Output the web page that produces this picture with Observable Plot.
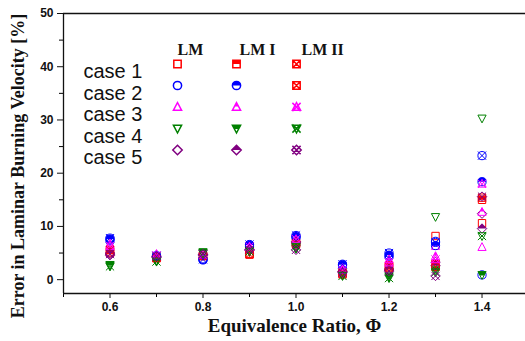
<!DOCTYPE html>
<html><head><meta charset="utf-8">
<script src="https://cdn.jsdelivr.net/npm/d3@7"></script>
<script src="https://cdn.jsdelivr.net/npm/@observablehq/plot@0.6"></script>
<style>body{margin:0;background:#fff}#chart svg{display:block}</style>
</head><body><div id="chart"></div>
<script>
// ---- data ----
const phi = [0.6, 0.7, 0.8, 0.9, 1.0, 1.1, 1.2, 1.3, 1.4];
const caseNames = ["case 1", "case 2", "case 3", "case 4", "case 5"];
const methods = ["LM", "LM I", "LM II"];
const xTicks = [0.6, 0.8, 1.0, 1.2, 1.4];
const xMinorTicks = [0.5, 0.7, 0.9, 1.1, 1.3];
const yTicks = [0, 10, 20, 30, 40, 50];
const yMinorTicks = [5, 15, 25, 35, 45];
const yTitle = "Error in Laminar Burning Velocity [%]";
const xTitle = "Equivalence Ratio, \u03A6";

const case1LM   = [5.0, 4.0, 4.4, 4.7, 6.6, 1.2, 2.5, 8.2, 10.6];
const case1LMI  = [5.3, 4.2, 4.6, 4.9, 6.8, 1.4, 2.7, 3.0, 15.0];
const case1LMII = [5.6, 4.1, 4.5, 4.8, 6.9, 1.0, 2.3, 2.4, 15.4];
const case2LM   = [7.3, 4.3, 3.7, 6.3, 7.9, 2.6, 4.3, 7.2, 0.9];
const case2LMI  = [7.6, 4.4, 3.9, 6.5, 8.1, 2.8, 4.6, 6.4, 18.4];
const case2LMII = [7.8, 4.5, 3.8, 6.6, 8.3, 2.9, 5.0, 7.0, 23.3];
const case3LM   = [6.5, 4.7, 4.6, 5.8, 7.3, 2.0, 3.5, 6.3, 6.1];
const case3LMI  = [6.8, 4.8, 4.8, 6.0, 7.5, 2.2, 3.8, 4.4, 12.7];
const case3LMII = [6.3, 4.6, 4.7, 6.2, 7.6, 1.8, 3.2, 3.8, 18.0];
const case4LM   = [2.6, 3.5, 5.0, 5.2, 5.8, 0.8, 0.8, 11.8, 30.3];
const case4LMI  = [2.8, 3.6, 5.2, 5.4, 6.0, 1.0, 0.5, 1.8, 0.9];
const case4LMII = [2.5, 3.4, 4.9, 5.3, 6.2, 0.7, 0.3, 1.4, 8.2];
const case5LM   = [4.6, 4.2, 4.6, 5.6, 6.9, 1.5, 1.8, 3.3, 12.4];
const case5LMI  = [5.0, 4.3, 4.7, 5.5, 7.1, 1.6, 2.0, 2.6, 9.6];
const case5LMII = [4.8, 4.4, 4.8, 5.7, 5.6, 1.3, 1.6, 0.7, 15.6];

const series = [
  [case1LM, case1LMI, case1LMII],
  [case2LM, case2LMI, case2LMII],
  [case3LM, case3LMI, case3LMII],
  [case4LM, case4LMI, case4LMII],
  [case5LM, case5LMI, case5LMII]
];
const colors = ["#ff0000", "#0000ff", "#ff00ff", "#008000", "#800080"];
const shapes = ["square", "circle", "triangleUp", "triangleDown", "diamond"];
// legend of the original shows case 2 / LM II in red
const legendColors = [
  ["#ff0000", "#ff0000", "#ff0000"],
  ["#0000ff", "#0000ff", "#ff0000"],
  ["#ff00ff", "#ff00ff", "#ff00ff"],
  ["#008000", "#008000", "#008000"],
  ["#800080", "#800080", "#800080"]
];
const legendShapes = [
  ["square", "square", "square"],
  ["circle", "circle", "square"],
  ["triangleUp", "triangleUp", "triangleUp"],
  ["triangleDown", "triangleDown", "triangleDown"],
  ["diamond", "diamond", "diamond"]
];

// ---- custom symbols ----
function outline(kind, c, r) {
  if (kind === "square") { const s = r * 0.9; c.rect(-s, -s, 2 * s, 2 * s); }
  else if (kind === "circle") { c.moveTo(r, 0); c.arc(0, 0, r, 0, 2 * Math.PI); c.closePath(); }
  else if (kind === "triangleUp") { c.moveTo(0, -1.1 * r); c.lineTo(r, 0.8 * r); c.lineTo(-r, 0.8 * r); c.closePath(); }
  else if (kind === "triangleDown") { c.moveTo(0, 1.1 * r); c.lineTo(r, -0.8 * r); c.lineTo(-r, -0.8 * r); c.closePath(); }
  else if (kind === "diamond") { const s = r * 1.15; c.moveTo(0, -s); c.lineTo(s, 0); c.lineTo(0, s); c.lineTo(-s, 0); c.closePath(); }
}
function topHalf(kind, c, r) {
  if (kind === "square") { const s = r * 0.9; c.rect(-s, -s, 2 * s, s); }
  else if (kind === "circle") { c.moveTo(-r, 0); c.arc(0, 0, r, Math.PI, 2 * Math.PI); c.closePath(); }
  else if (kind === "triangleUp") { c.moveTo(0, -1.1 * r); c.lineTo(0.5 * r, -0.15 * r); c.lineTo(-0.5 * r, -0.15 * r); c.closePath(); }
  else if (kind === "triangleDown") { c.moveTo(-r, -0.8 * r); c.lineTo(r, -0.8 * r); c.lineTo(0.5 * r, 0.15 * r); c.lineTo(-0.5 * r, 0.15 * r); c.closePath(); }
  else if (kind === "diamond") { const s = r * 1.15; c.moveTo(0, -s); c.lineTo(s, 0); c.lineTo(-s, 0); c.closePath(); }
}
function sym(kind, variant) {
  return {
    draw(c, size) {
      const r = Math.sqrt(size / Math.PI);
      if (variant === "half") { topHalf(kind, c, r); return; }
      outline(kind, c, r);
      if (variant === "cross") {
        const s = kind === "square" ? r * 0.9 : r;
        c.moveTo(-s, -s); c.lineTo(s, s);
        c.moveTo(s, -s); c.lineTo(-s, s);
      }
    }
  };
}

// ---- table ----
const rows = [];
series.forEach((ms, ci) => ms.forEach((vals, mi) => vals.forEach((v, k) => rows.push({phi: phi[k], err: v, ci, mi}))));

const R = 4.1;
const markerMarks = [];
for (let mi = 0; mi < 3; mi++) {
  for (let ci = 0; ci < 5; ci++) {
    const data = rows.filter(d => d.ci === ci && d.mi === mi);
    const col = colors[ci], kind = shapes[ci];
    if (mi === 0) {
      markerMarks.push(Plot.dot(data, {x: "phi", y: "err", r: R, symbol: sym(kind, "open"), stroke: col, fill: "none", strokeWidth: 1}));
    } else if (mi === 1) {
      markerMarks.push(Plot.dot(data, {x: "phi", y: "err", r: R, symbol: sym(kind, "half"), fill: col, stroke: "none"}));
      markerMarks.push(Plot.dot(data, {x: "phi", y: "err", r: R, symbol: sym(kind, "open"), stroke: col, fill: "none", strokeWidth: 1}));
    } else {
      markerMarks.push(Plot.dot(data, {x: "phi", y: "err", r: R, symbol: sym(kind, "cross"), stroke: col, fill: "none", strokeWidth: 1}));
    }
  }
}

// ---- legend (placed relative to the frame) ----
const legendMarks = [];
const headerDx = [114, 176, 238];
const markerDx = [114, 173, 233];
const rowDy = i => 50.5 + 21.5 * i;
methods.forEach((m, mi) => legendMarks.push(Plot.text([m], {
  frameAnchor: "top-left", dx: headerDx[mi], dy: 30, text: d => d,
  fontFamily: "Liberation Serif, Times New Roman, serif", fontWeight: "bold", fontSize: 16, fill: "#111"
})));
caseNames.forEach((name, ci) => {
  legendMarks.push(Plot.text([name], {
    frameAnchor: "top-left", dx: 20, dy: rowDy(ci), text: d => d, textAnchor: "start",
    fontFamily: "Liberation Sans, Arial, sans-serif", fontSize: 20, fill: "#111"
  }));
  for (let mi = 0; mi < 3; mi++) {
    const col = legendColors[ci][mi], kind = legendShapes[ci][mi];
    const base = {frameAnchor: "top-left", dx: markerDx[mi], dy: rowDy(ci), r: R};
    if (mi === 0) legendMarks.push(Plot.dot([0], {...base, symbol: sym(kind, "open"), stroke: col, fill: "none"}));
    else if (mi === 1) {
      legendMarks.push(Plot.dot([0], {...base, symbol: sym(kind, "half"), fill: col, stroke: "none"}));
      legendMarks.push(Plot.dot([0], {...base, symbol: sym(kind, "open"), stroke: col, fill: "none"}));
    } else legendMarks.push(Plot.dot([0], {...base, symbol: sym(kind, "cross"), stroke: col, fill: "none"}));
  }
});

const tickFont = {fontFamily: "Liberation Sans, Arial, sans-serif", fontWeight: "bold", fontSize: 12};
const chart = Plot.plot({
  width: 525, height: 341,
  marginLeft: 63, marginTop: 13, marginRight: 0, marginBottom: 48,
  x: {domain: [0.5, 1.4935]},
  y: {domain: [-2.6, 50]},
  marks: [
    Plot.axisY({ticks: yTicks, tickSize: 6, tickPadding: 4, label: null, ...tickFont, color: "#111"}),
    Plot.axisY({ticks: yMinorTicks, tickSize: 4, tickFormat: () => "", label: null}),
    Plot.axisX({ticks: xTicks, tickSize: 5, tickPadding: 4, tickFormat: d3.format(".1f"), label: null, ...tickFont, color: "#111"}),
    Plot.axisX({ticks: xMinorTicks, tickSize: 4, tickFormat: () => "", label: null}),
    Plot.ruleX([0.5], {stroke: "#111", strokeWidth: 1.3}),
    Plot.ruleY([-2.6], {stroke: "#111", strokeWidth: 1.3}),
    Plot.ruleY([50], {stroke: "#111", strokeWidth: 1.3}),
    Plot.text([xTitle], {
      frameAnchor: "bottom", dy: 38, text: d => d,
      fontFamily: "Liberation Serif, Times New Roman, serif", fontWeight: "bold", fontSize: 19, fill: "#111"
    }),
    ...markerMarks,
    ...legendMarks
  ]
});
// vertical axis title, rotated, added to the same SVG
d3.select(chart).append("text")
  .attr("transform", "translate(18,166) rotate(-90)")
  .attr("text-anchor", "middle")
  .attr("dominant-baseline", "central")
  .attr("font-family", "Liberation Serif, Times New Roman, serif")
  .attr("font-weight", "bold")
  .attr("font-size", 18)
  .attr("fill", "#111")
  .text(yTitle);
document.getElementById("chart").appendChild(chart);
</script>
</body></html>
